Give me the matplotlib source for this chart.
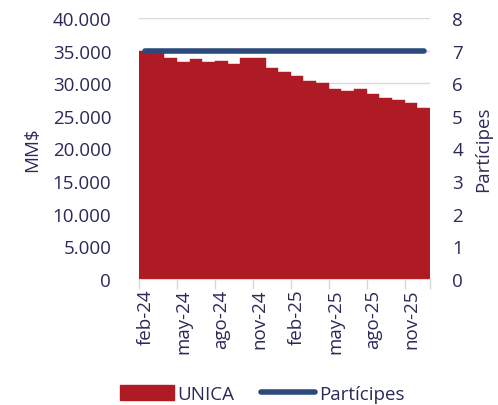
import matplotlib
matplotlib.use("Agg")
import matplotlib.pyplot as plt
from matplotlib.lines import Line2D
from matplotlib.patches import Patch
from matplotlib.ticker import FuncFormatter, FixedLocator

months = ["feb-24", "mar-24", "abr-24", "may-24", "jun-24", "jul-24", "ago-24", "sep-24",
          "oct-24", "nov-24", "dic-24", "ene-25", "feb-25", "mar-25", "abr-25", "may-25",
          "jun-25", "jul-25", "ago-25", "sep-25", "oct-25", "nov-25", "dic-25"]
unica = [34900, 34600, 33800, 33300, 33700, 33200, 33400, 32900, 33800, 33900, 32300, 31800,
         31100, 30300, 30000, 29100, 28800, 29100, 28400, 27800, 27400, 27000, 26200]
participes = [7] * len(months)

BAR = "#AE1B24"
LINE = "#2B4A7B"
TXT = "#2A2A58"
GRID = "#D9D9D9"
FS = 13.5

plt.rcParams['font.family'] = ['Open Sans', 'DejaVu Sans']

fig = plt.figure(figsize=(4.98, 4.06), dpi=100)
ax = fig.add_axes([139/498, 1-280/406, (430-139)/498, (280-19)/406])
ax2 = ax.twinx()

x = list(range(len(months)))
ax.bar(x, unica, width=1.0, color=BAR, zorder=2, edgecolor=BAR, linewidth=0.3)
ax.set_xlim(-0.5, len(months) - 0.5)
ax.set_ylim(0, 40000)
ax.set_yticks(range(0, 40001, 5000))
ax.yaxis.set_major_formatter(FuncFormatter(lambda v, p: f"{int(v):,}".replace(",", ".")))
ax.grid(axis='y', color=GRID, linewidth=1, zorder=0)
ax.set_axisbelow(True)

ax2.plot(x, participes, color=LINE, linewidth=4, solid_capstyle='round', zorder=3)
ax2.set_ylim(0, 8)
ax2.set_yticks(range(0, 9))

# category ticks at boundaries, labels at centers
lab_idx = list(range(0, len(months), 3))
ax.set_xticks(lab_idx)
ax.set_xticklabels([months[i] for i in lab_idx], rotation=90, color=TXT, fontsize=FS)
ax.xaxis.set_minor_locator(FixedLocator([i - 0.5 for i in lab_idx] + [len(months) - 0.5]))
ax.tick_params(axis='x', which='major', length=0, pad=7)
ax.tick_params(axis='x', which='minor', length=7, color=GRID, width=1)

for a in (ax, ax2):
    for s in a.spines.values():
        s.set_visible(False)
ax.spines['bottom'].set_visible(True)
ax.spines['bottom'].set_color(GRID)

ax.tick_params(axis='y', length=0, labelsize=FS, labelcolor=TXT, pad=20)
ax2.tick_params(axis='y', length=0, labelsize=FS, labelcolor=TXT, pad=16)
ax2.tick_params(axis='x', length=0)

ax.set_ylabel("MM$", fontsize=FS, color=TXT, labelpad=8)
ax2.set_ylabel("Partícipes", fontsize=FS, color=TXT, labelpad=8)

handles = [Patch(facecolor=BAR, edgecolor=BAR),
           Line2D([0], [0], color=LINE, linewidth=4, solid_capstyle='round')]
fig.legend(handles, ["UNICA", "Partícipes"], loc='center', bbox_to_anchor=(262/498, 1-395/406),
           ncol=2, frameon=False, fontsize=FS, labelcolor=TXT, handlelength=2.9,
           handletextpad=0.2, columnspacing=1.4, handleheight=0.9)

fig.savefig("out.png", dpi=100)
